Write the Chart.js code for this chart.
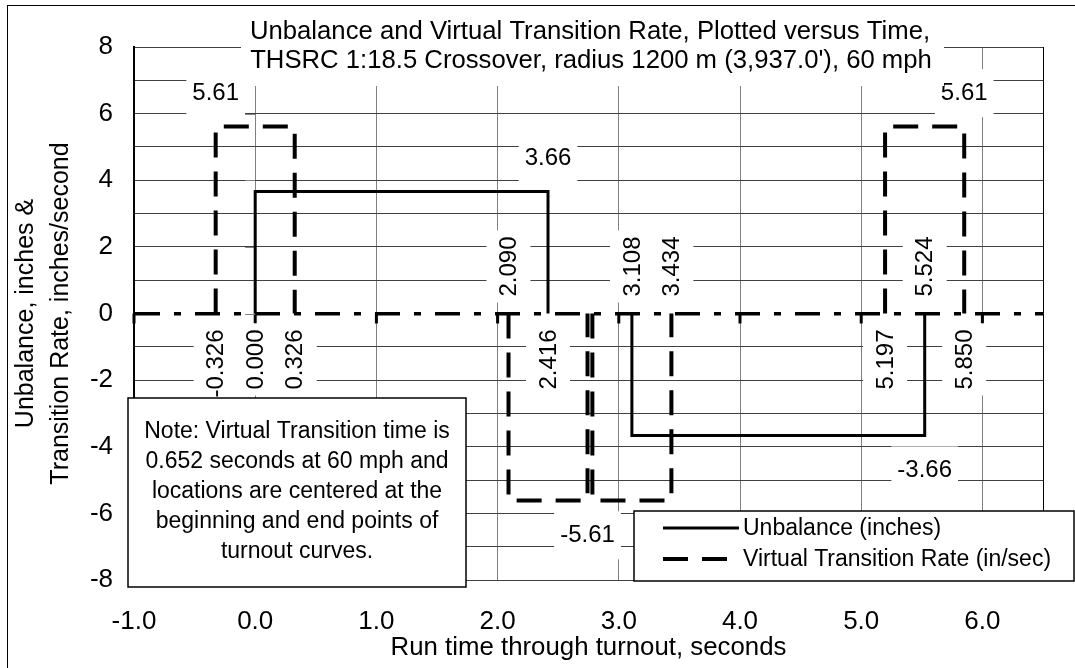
<!DOCTYPE html>
<html>
<head>
<meta charset="utf-8">
<script src="https://cdn.jsdelivr.net/npm/chart.js@4.4.0/dist/chart.umd.min.js"></script>
<style>
html, body { margin: 0; padding: 0; background: #fff; }
</style>
</head>
<body>
<canvas id="canvas" width="1075" height="668"></canvas>
<script>
var FONT = '"Liberation Sans", Arial, sans-serif';

// unbalance step line (time s, inches)
var unbalanceTime = [-1, 0, 0, 2.416, 2.416, 3.108, 3.108, 5.524, 5.524, 6.5];
var unbalanceInches = [0, 0, 3.66, 3.66, 0, 0, -3.66, -3.66, 0, 0];

// virtual transition rate pulses (time s, in/sec)
var vtrTime = [-1, -0.326, -0.326, 0.326, 0.326, 2.090, 2.090, 2.742, 2.742, 2.782, 2.782, 3.434, 3.434, 5.197, 5.197, 5.850, 5.850, 6.5];
var vtrRate = [0, 0, 5.61, 5.61, 0, 0, -5.61, -5.61, 0, 0, -5.61, -5.61, 0, 0, 5.61, 5.61, 0, 0];

var xTicks = [-1, 0, 1, 2, 3, 4, 5, 6];
var yTicks = [-8, -7, -6, -5, -4, -3, -2, -1, 0, 1, 2, 3, 4, 5, 6, 7, 8];

var titleLines = ['Unbalance and Virtual Transition Rate, Plotted versus Time,',
                  "THSRC 1:18.5 Crossover, radius 1200 m (3,937.0'), 60 mph"];
var noteLines = ['Note: Virtual Transition time is', '0.652 seconds at 60 mph and',
                 'locations are centered at the', 'beginning and end points of', 'turnout curves.'];

// value labels: above / below the point, or rotated up / down from the zero line
var valueLabels = [
    {text: '5.61', x: -0.326, y: 5.61, pos: 'above'},
    {text: '3.66', x: 2.416, y: 3.66, pos: 'above'},
    {text: '5.61', x: 5.850, y: 5.61, pos: 'above'},
    {text: '-3.66', x: 5.524, y: -3.66, pos: 'below'},
    {text: '-5.61', x: 2.742, y: -5.61, pos: 'below'},
    {text: '2.090', x: 2.090, y: 0, pos: 'up'},
    {text: '3.108', x: 3.108, y: 0, pos: 'up'},
    {text: '3.434', x: 3.434, y: 0, pos: 'up'},
    {text: '5.524', x: 5.524, y: 0, pos: 'up'},
    {text: '-0.326', x: -0.326, y: 0, pos: 'down'},
    {text: '0.000', x: 0.000, y: 0, pos: 'down'},
    {text: '0.326', x: 0.326, y: 0, pos: 'down'},
    {text: '2.416', x: 2.416, y: 0, pos: 'down'},
    {text: '5.197', x: 5.197, y: 0, pos: 'down'},
    {text: '5.850', x: 5.850, y: 0, pos: 'down'}
];

function toPoints(xs, ys) {
    return xs.map(function(x, i) { return {x: x, y: ys[i]}; });
}
// zero runs are not stroked, the x axis line is drawn there instead
function hideZero(c) {
    return (c.p0.parsed.y === 0 && c.p1.parsed.y === 0) ? 'rgba(0,0,0,0)' : undefined;
}

var extras = {
    id: 'extras',
    beforeDatasetsDraw: function(chart) {
        var ctx = chart.ctx, a = chart.chartArea;
        var sx = chart.scales.x, sy = chart.scales.y;
        var y0 = sy.getPixelForValue(0), x0 = sx.getPixelForValue(0);
        ctx.save();
        ctx.strokeStyle = '#000';
        ctx.lineWidth = 1;
        ctx.beginPath();
        ctx.moveTo(Math.round(a.right) + 0.5, a.top);
        ctx.lineTo(Math.round(a.right) + 0.5, a.bottom);
        ctx.stroke();
        // x axis tick marks at the zero line
        ctx.lineWidth = 3;
        xTicks.forEach(function(v) {
            var px = sx.getPixelForValue(v);
            ctx.beginPath();
            ctx.moveTo(px, y0);
            ctx.lineTo(px, y0 + 10);
            ctx.stroke();
        });
        // y axis tick marks at x = 0
        ctx.strokeStyle = '#808080';
        ctx.lineWidth = 1;
        yTicks.forEach(function(v) {
            if (v % 2 !== 0) return;
            var py = Math.round(sy.getPixelForValue(v)) + 0.5;
            ctx.beginPath();
            ctx.moveTo(x0 - 10, py);
            ctx.lineTo(x0, py);
            ctx.stroke();
        });
        ctx.restore();
    },
    afterDatasetsDraw: function(chart) {
        var ctx = chart.ctx;
        var sx = chart.scales.x, sy = chart.scales.y;
        ctx.save();
        ctx.font = '24px ' + FONT;
        valueLabels.forEach(function(l) {
            var px = sx.getPixelForValue(l.x), py = sy.getPixelForValue(l.y);
            var w = ctx.measureText(l.text).width;
            if (l.pos === 'above' || l.pos === 'below') {
                var cy = l.pos === 'above' ? py - 33.5 : py + 35;
                ctx.fillStyle = '#fff';
                ctx.fillRect(px - w / 2 - 6, cy - 24, w + 12, 48);
                ctx.fillStyle = '#000';
                ctx.textAlign = 'center';
                ctx.textBaseline = 'middle';
                ctx.fillText(l.text, px, cy);
            } else {
                ctx.save();
                if (l.pos === 'up') {
                    ctx.translate(px, py - 17);
                    ctx.rotate(-Math.PI / 2);
                    ctx.fillStyle = '#fff';
                    ctx.fillRect(-6, -22, w + 12, 44);
                    ctx.textAlign = 'left';
                } else {
                    ctx.translate(px, py + 16);
                    ctx.rotate(-Math.PI / 2);
                    ctx.fillStyle = '#fff';
                    ctx.fillRect(-w - 6, -22, w + 12, 44);
                    ctx.textAlign = 'right';
                }
                ctx.fillStyle = '#000';
                ctx.textBaseline = 'middle';
                ctx.fillText(l.text, 0, 1);
                ctx.restore();
            }
        });
        ctx.restore();
    },
    afterDraw: function(chart) {
        var ctx = chart.ctx;
        ctx.save();
        // outer frame
        ctx.strokeStyle = '#000';
        ctx.lineWidth = 1;
        ctx.strokeRect(7.5, 5.5, 1200, 800);

        // title
        ctx.fillStyle = '#fff';
        ctx.fillRect(241, 8, 703, 78);
        ctx.fillStyle = '#000';
        ctx.font = '25.7px ' + FONT;
        ctx.textAlign = 'center';
        ctx.textBaseline = 'middle';
        ctx.fillText(titleLines[0], 590, 32);
        ctx.fillText(titleLines[1], 591, 61);

        // note box
        ctx.fillStyle = '#fff';
        ctx.fillRect(128, 398, 338, 189);
        ctx.lineWidth = 1.5;
        ctx.strokeRect(128, 398, 338, 189);
        ctx.fillStyle = '#000';
        ctx.font = '23px ' + FONT;
        noteLines.forEach(function(t, i) {
            ctx.fillText(t, 297, 432 + i * 30);
        });

        // legend
        ctx.fillStyle = '#fff';
        ctx.fillRect(634, 511, 440, 70);
        ctx.strokeRect(634, 511, 440, 70);
        chart.data.datasets.forEach(function(ds, i) {
            var ly = 528 + i * 31;
            ctx.save();
            ctx.strokeStyle = ds.borderColor;
            ctx.lineWidth = ds.borderWidth;
            ctx.setLineDash(ds.borderDash || []);
            ctx.beginPath();
            ctx.moveTo(663, ly);
            ctx.lineTo(739, ly);
            ctx.stroke();
            ctx.restore();
            ctx.fillStyle = '#000';
            ctx.textAlign = 'left';
            ctx.fillText(ds.label, 743, ly + 1);
        });
        ctx.restore();
    }
};

var ctx = document.getElementById('canvas').getContext('2d');
var chart = new Chart(ctx, {
    type: 'line',
    data: {
        datasets: [{
            label: 'Unbalance (inches)',
            data: toPoints(unbalanceTime, unbalanceInches),
            borderColor: '#000',
            borderWidth: 3,
            pointRadius: 0,
            tension: 0,
            segment: { borderColor: hideZero }
        }, {
            label: 'Virtual Transition Rate (in/sec)',
            data: toPoints(vtrTime, vtrRate),
            borderColor: '#000',
            borderWidth: 4,
            borderDash: [25, 14],
            pointRadius: 0,
            tension: 0,
            segment: { borderColor: hideZero }
        }]
    },
    options: {
        responsive: false,
        animation: false,
        devicePixelRatio: 1,
        layout: { padding: { left: 0, right: 32, top: 47, bottom: 0 } },
        plugins: { legend: { display: false }, title: { display: false }, tooltip: { enabled: false } },
        scales: {
            x: {
                type: 'linear',
                min: -1,
                max: 6.5,
                afterBuildTicks: function(s) { s.ticks = xTicks.map(function(v) { return {value: v}; }); },
                afterFit: function(s) { s.height = 88; },
                grid: { color: '#808080', lineWidth: 1, drawTicks: false },
                border: { display: false },
                ticks: {
                    padding: 26,
                    color: '#000',
                    autoSkip: false,
                    maxRotation: 0,
                    font: { family: FONT, size: 26 },
                    callback: function(v) { return v.toFixed(1); }
                },
                title: {
                    display: true,
                    text: 'Run time through turnout, seconds',
                    color: '#000',
                    font: { family: FONT, size: 25.8 },
                    padding: { top: 0, bottom: 5 }
                }
            },
            y: {
                type: 'linear',
                min: -8,
                max: 8,
                afterBuildTicks: function(s) { s.ticks = yTicks.map(function(v) { return {value: v}; }); },
                afterFit: function(s) { s.width = 134; },
                grid: {
                    drawTicks: false,
                    color: function(c) { return c.tick && c.tick.value === 0 ? '#000' : '#404040'; },
                    lineWidth: function(c) { return c.tick && c.tick.value === 0 ? 3.5 : 1; }
                },
                border: {
                    display: true,
                    color: '#000',
                    width: 2,
                    dash: function(c) { return c.tick && c.tick.value === 0 ? [25, 14, 7, 14] : []; }
                },
                ticks: {
                    padding: 21,
                    color: '#000',
                    autoSkip: false,
                    font: { family: FONT, size: 26 },
                    callback: function(v) { return v % 2 === 0 ? String(v) : ''; }
                },
                title: {
                    display: true,
                    text: ['Unbalance, inches &', 'Transition Rate, inches/second'],
                    color: '#000',
                    font: { family: FONT, size: 25, lineHeight: 1.4 },
                    padding: { top: 9, bottom: 0 }
                }
            }
        }
    },
    plugins: [extras]
});
</script>
</body>
</html>
